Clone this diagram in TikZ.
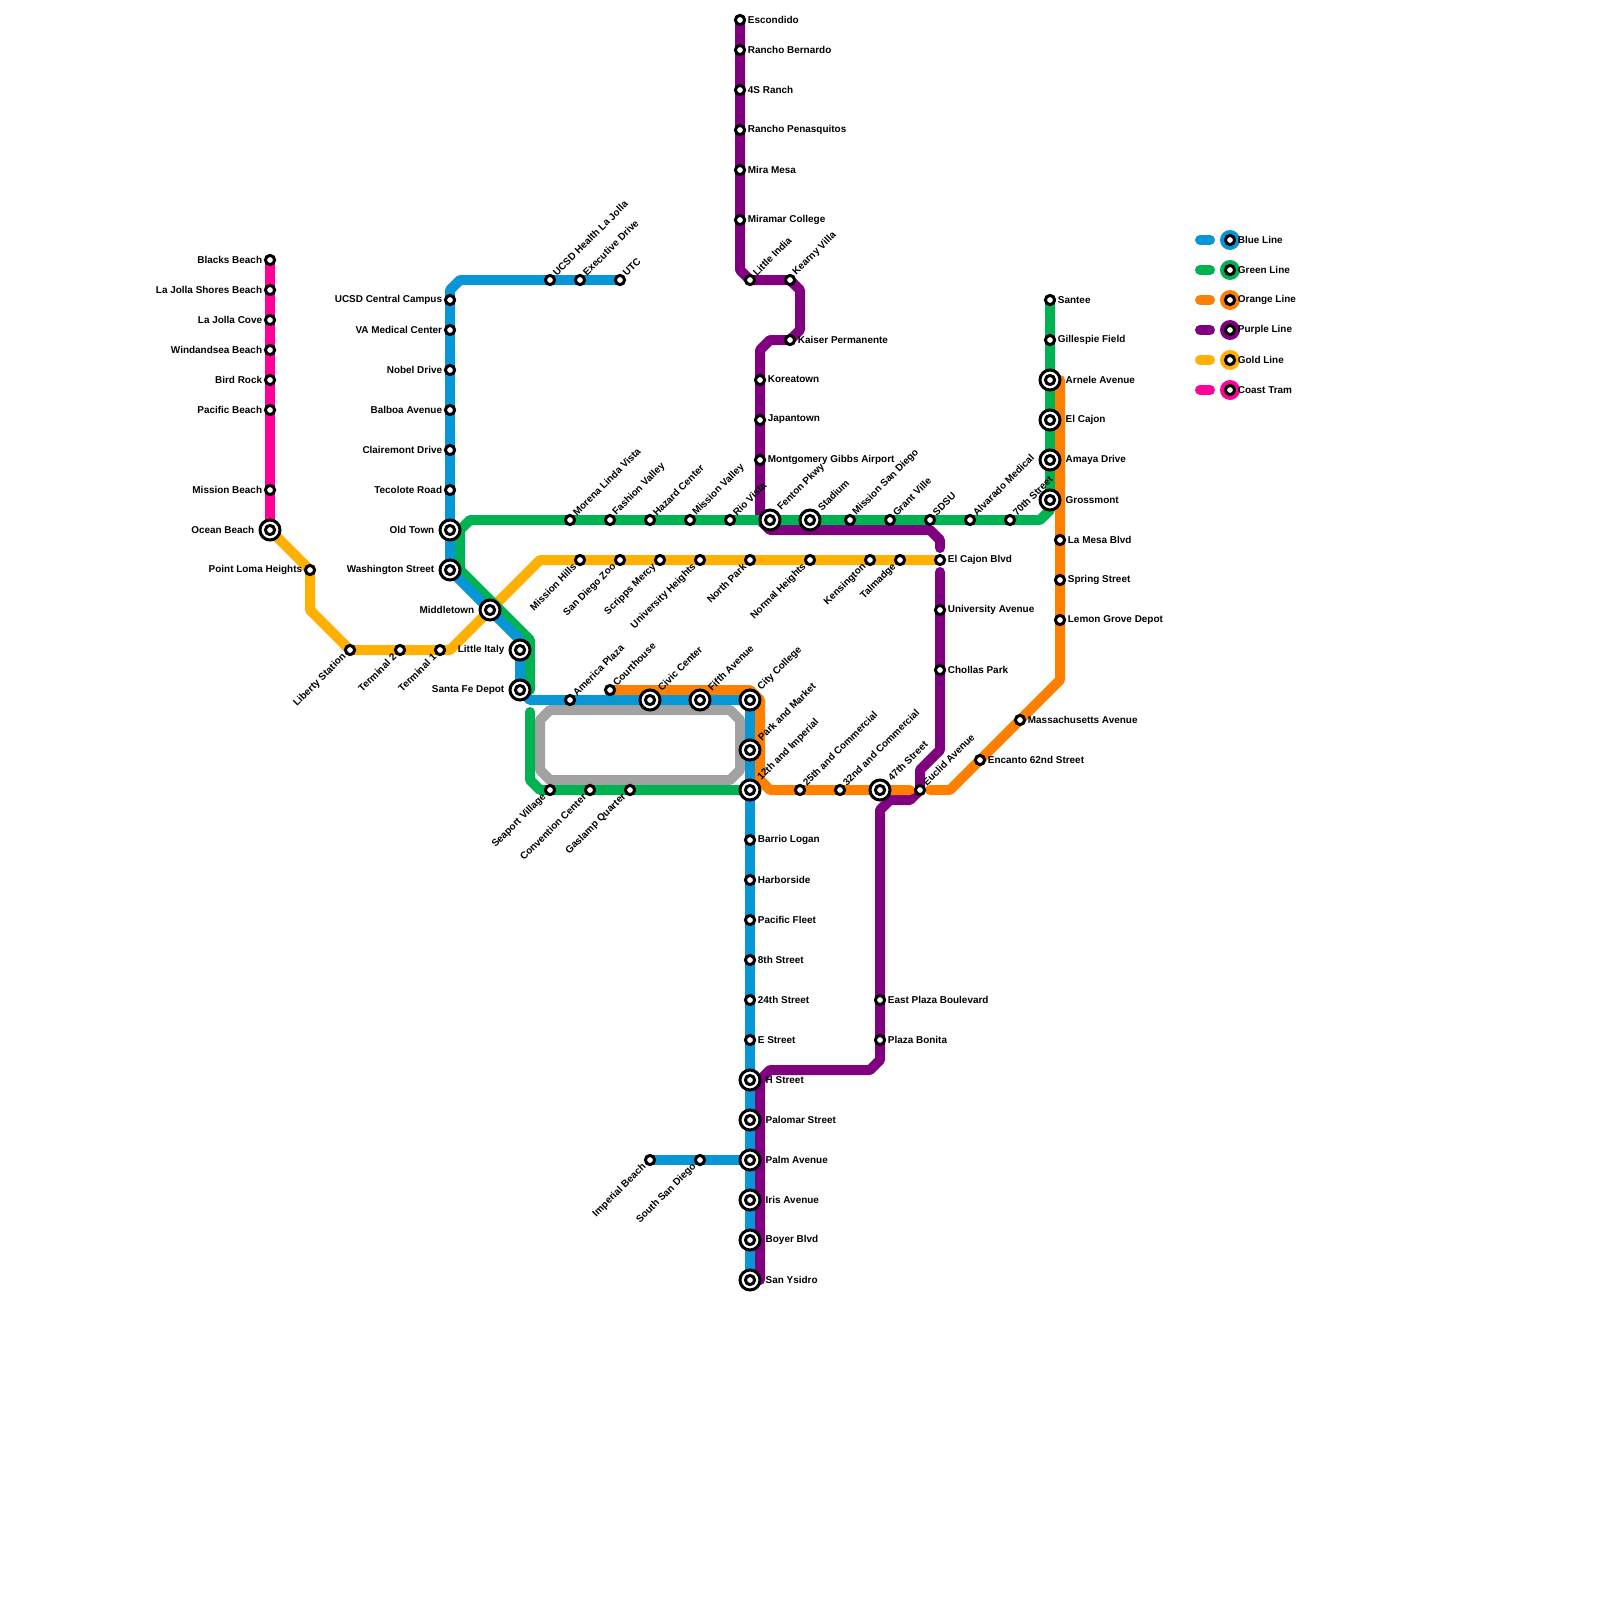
\documentclass[tikz,border=0pt]{standalone}
\usepackage{fontspec}
\setmainfont{Liberation Sans}
\usepackage{tkz-euclide}
\definecolor{BlueClr}{HTML}{0896D7}
\definecolor{GreenClr}{HTML}{00B251}
\definecolor{OrangeClr}{HTML}{FF8000}
\definecolor{PurpleClr}{HTML}{800080}
\definecolor{GoldClr}{HTML}{FFB000}
\definecolor{CoastClr}{HTML}{FF0099}
\definecolor{LoopClr}{HTML}{A2A2A2}
\tikzset{
  metro/.style={line width=1mm,line cap=round,line join=round},
  stn/.style={circle,draw=black,fill=white,line width=.3mm,inner sep=0pt,minimum size=.92mm},
  hub/.style={circle,draw=black,fill=white,line width=.3mm,inner sep=0pt,minimum size=2mm},
  disc/.style={circle,inner sep=0pt,minimum size=2mm},
  lbl/.style={font=\fontsize{2.83}{3.4}\selectfont\bfseries,inner sep=0pt,text=black},
  lblR/.style={lbl,anchor=west,xshift=.72mm,yshift=.04mm},
  lblRh/.style={lbl,anchor=west,xshift=1.5mm,yshift=.04mm},
  lblL/.style={lbl,anchor=east,xshift=-.72mm,yshift=.04mm},
  lblLh/.style={lbl,anchor=east,xshift=-1.5mm,yshift=.04mm},
  lblU/.style={lbl,anchor=west,xshift=.4mm,yshift=.55mm,rotate=45},
  lblUh/.style={lbl,anchor=west,xshift=.9mm,yshift=1.05mm,rotate=45},
  lblD/.style={lbl,anchor=east,xshift=-.5mm,yshift=-.5mm,rotate=45},
}

\begin{document}
\begin{tikzpicture}[x=1mm,y=-1mm]
\useasboundingbox (0,0) rectangle (160,160);

% stations
\tkzDefPoints{27/26/BB,27/29/LJS,27/32/LJC,27/35/WS,27/38/BR,27/41/PB,27/49/MB,27/53/OB}
\tkzDefPoints{31/57/PL,35/65/LS,40/65/TT,44/65/TO,49/61/MT}
\tkzDefPoints{58/56/MH,62/56/SZ,66/56/SM,70/56/UH,75/56/NP,81/56/NH,87/56/KS,90/56/TM,94/56/EB}
\tkzDefPoints{62/28/UT,58/28/ED,55/28/UH1,45/30/UC,45/33/VA,45/37/ND,45/41/BA,45/45/CD,45/49/TR,45/53/OT,45/57/WA}
\tkzDefPoints{52/65/LI,52/69/SF,57/70/AP,65/70/CC,70/70/FA,75/70/CL,75/75/PM,75/79/TI}
\tkzDefPoints{75/84/BL,75/88/HS,75/92/PF,75/96/ES,75/100/TF,75/104/ET,75/108/HT,75/112/PA,75/116/PV,75/120/IA,75/124/BY,75/128/SY}
\tkzDefPoints{65/116/IB,70/116/SS}
\tkzDefPoints{105/30/ST,105/34/GF,105/38/AR,105/42/EC,105/46/AD,105/50/GR}
\tkzDefPoints{57/52/ML,61/52/FV,65/52/HC,69/52/MV,73/52/RV,77/52/FP,81/52/SD,85/52/MS,89/52/GV,93/52/SU,97/52/AM,101/52/SV}
\tkzDefPoints{55/79/SV1,59/79/CN,63/79/GQ}
\tkzDefPoints{61/69/CH,80/79/TC,84/79/DC,88/79/FS,92/79/EA,98/76/EN,102/72/MA,106/62/LG,106/58/SP,106/54/LM}
\tkzDefPoints{74/2/EO,74/5/RB,74/9/FR,74/13/RP,74/17/MM,74/22/MC,75/28/LN,79/28/KV,79/34/KP,76/38/KT,76/42/JT,76/46/MG}
\tkzDefPoints{94/61/UA,94/67/CP,88/100/EP,88/104/PO}

% bends
\tkzDefPoints{31/61/Y1,45/65/Y2,54/56/Y3}
\tkzDefPoints{46/28/B1,45/29/B2,52/64/B3,53/70/B4}
\tkzDefPoints{47/52/G1,46/53/G2,46/57/G3,53/64/G4,53/69/G5,53/71.2/G6,53/78/G7,54/79/G8,104/52/G9,105/51/G10}
\tkzDefPoints{75/69/O1,76/70/O2,76/78/O3,77/79/O4,91/79/O5,93/79/O6,95/79/O7,106/68/O8,106/38/O9}
\tkzDefPoints{74/27/P1,80/29/P2,80/33/P3,77/34/P4,76/35/P5,76/52/P6,77/53/P7,93/53/P8,94/54/P9,94/54.8/P10}
\tkzDefPoints{94/57.2/P11,94/75/P12,92/77/P13,91/80/P14,89/80/P15,88/81/P16,88/106/P17,87/107/P18,77/107/P19,76/108/P20,76/128/P21}
\tkzDefPoints{55/71/L1,73/71/L2,74/72/L3,74/77/L4,73/78/L5,55/78/L6,54/77/L7,54/72/L8}
\tkzDefPoints{120/24/KA,121/24/KB,123/24/KC,120/27/KD,121/27/KE,123/27/KF,120/30/KG,121/30/KH,123/30/KI}
\tkzDefPoints{120/33/KJ,121/33/KK,123/33/KL,120/36/KM,121/36/KN,123/36/KO,120/39/KP1,121/39/KQ,123/39/KR}

\draw[metro,color=LoopClr] (L1) -- (L2) -- (L3) -- (L4) -- (L5) -- (L6) -- (L7) -- (L8) -- cycle;
\draw[metro,color=GoldClr] (OB) -- (PL) -- (Y1) -- (LS) -- (Y2) -- (Y3) -- (EB);
\draw[metro,color=PurpleClr] (EO) -- (P1) -- (LN) -- (KV) -- (P2) -- (P3) -- (KP) -- (P4) -- (P5) -- (P6) -- (P7) -- (P8) -- (P9) -- (P10);
\draw[metro,color=GreenClr] (ST) -- (G10) -- (G9) -- (G1) -- (G2) -- (G3) -- (G4) -- (G5);
\draw[metro,color=GreenClr] (G6) -- (G7) -- (G8) -- (TI);
\draw[metro,color=BlueClr] (UT) -- (B1) -- (B2) -- (WA) -- (B3) -- (SF) -- (B4) -- (CL) -- (SY);
\draw[metro,color=BlueClr] (IB) -- (PV);
\draw[metro,color=PurpleClr] (P11) -- (P12) -- (P13) -- (EA) -- (P14) -- (P15) -- (P16) -- (P17) -- (P18) -- (P19) -- (P20) -- (P21) -- (SY);
\draw[metro,color=OrangeClr] (CH) -- (O1) -- (O2) -- (O3) -- (O4) -- (O5);
\draw[metro,color=OrangeClr] (O6) -- (O7) -- (O8) -- (O9);
\draw[metro,color=CoastClr] (BB) -- (OB);

% legend
\draw[metro,color=BlueClr] (KA) -- (KB);
\draw[metro,color=GreenClr] (KD) -- (KE);
\draw[metro,color=OrangeClr] (KG) -- (KH);
\draw[metro,color=PurpleClr] (KJ) -- (KK);
\draw[metro,color=GoldClr] (KM) -- (KN);
\draw[metro,color=CoastClr] (KP1) -- (KQ);
\node[disc,fill=BlueClr] (dBlue) at (KC) {};
\node[disc,fill=GreenClr] (dGreen) at (KF) {};
\node[disc,fill=OrangeClr] (dOrange) at (KI) {};
\node[disc,fill=PurpleClr] (dPurple) at (KL) {};
\node[disc,fill=GoldClr] (dGold) at (KO) {};
\node[disc,fill=CoastClr] (dCoast) at (KR) {};
\node[stn] (nBlue) at (KC) {}; \node[lblR] (tBlue) at (KC) {Blue Line};
\node[stn] (nGreen) at (KF) {}; \node[lblR] (tGreen) at (KF) {Green Line};
\node[stn] (nOrange) at (KI) {}; \node[lblR] (tOrange) at (KI) {Orange Line};
\node[stn] (nPurple) at (KL) {}; \node[lblR] (tPurple) at (KL) {Purple Line};
\node[stn] (nGold) at (KO) {}; \node[lblR] (tGold) at (KO) {Gold Line};
\node[stn] (nCoast) at (KR) {}; \node[lblR] (tCoast) at (KR) {Coast Tram};

% interchanges
\node[hub] (hOB) at (OB) {}; \node[stn] (nOB) at (OB) {}; \node[lblLh] (tOB) at (OB) {Ocean Beach};
\node[hub] (hOT) at (OT) {}; \node[stn] (nOT) at (OT) {}; \node[lblLh] (tOT) at (OT) {Old Town};
\node[hub] (hWA) at (WA) {}; \node[stn] (nWA) at (WA) {}; \node[lblLh] (tWA) at (WA) {Washington Street};
\node[hub] (hMT) at (MT) {}; \node[stn] (nMT) at (MT) {}; \node[lblLh] (tMT) at (MT) {Middletown};
\node[hub] (hLI) at (LI) {}; \node[stn] (nLI) at (LI) {}; \node[lblLh] (tLI) at (LI) {Little Italy};
\node[hub] (hSF) at (SF) {}; \node[stn] (nSF) at (SF) {}; \node[lblLh] (tSF) at (SF) {Santa Fe Depot};
\node[hub] (hCC) at (CC) {}; \node[stn] (nCC) at (CC) {}; \node[lblUh] (tCC) at (CC) {Civic Center};
\node[hub] (hFA) at (FA) {}; \node[stn] (nFA) at (FA) {}; \node[lblUh] (tFA) at (FA) {Fifth Avenue};
\node[hub] (hCL) at (CL) {}; \node[stn] (nCL) at (CL) {}; \node[lblUh] (tCL) at (CL) {City College};
\node[hub] (hPM) at (PM) {}; \node[stn] (nPM) at (PM) {}; \node[lblUh] (tPM) at (PM) {Park and Market};
\node[hub] (hTI) at (TI) {}; \node[stn] (nTI) at (TI) {}; \node[lblUh] (tTI) at (TI) {12th and Imperial};
\node[hub] (hFS) at (FS) {}; \node[stn] (nFS) at (FS) {}; \node[lblUh] (tFS) at (FS) {47th Street};
\node[hub] (hFP) at (FP) {}; \node[stn] (nFP) at (FP) {}; \node[lblUh] (tFP) at (FP) {Fenton Pkwy};
\node[hub] (hSD) at (SD) {}; \node[stn] (nSD) at (SD) {}; \node[lblUh] (tSD) at (SD) {Stadium};
\node[hub] (hAR) at (AR) {}; \node[stn] (nAR) at (AR) {}; \node[lblRh] (tAR) at (AR) {Arnele Avenue};
\node[hub] (hEC) at (EC) {}; \node[stn] (nEC) at (EC) {}; \node[lblRh] (tEC) at (EC) {El Cajon};
\node[hub] (hAD) at (AD) {}; \node[stn] (nAD) at (AD) {}; \node[lblRh] (tAD) at (AD) {Amaya Drive};
\node[hub] (hGR) at (GR) {}; \node[stn] (nGR) at (GR) {}; \node[lblRh] (tGR) at (GR) {Grossmont};
\node[hub] (hHT) at (HT) {}; \node[stn] (nHT) at (HT) {}; \node[lblRh] (tHT) at (HT) {H Street};
\node[hub] (hPA) at (PA) {}; \node[stn] (nPA) at (PA) {}; \node[lblRh] (tPA) at (PA) {Palomar Street};
\node[hub] (hPV) at (PV) {}; \node[stn] (nPV) at (PV) {}; \node[lblRh] (tPV) at (PV) {Palm Avenue};
\node[hub] (hIA) at (IA) {}; \node[stn] (nIA) at (IA) {}; \node[lblRh] (tIA) at (IA) {Iris Avenue};
\node[hub] (hBY) at (BY) {}; \node[stn] (nBY) at (BY) {}; \node[lblRh] (tBY) at (BY) {Boyer Blvd};
\node[hub] (hSY) at (SY) {}; \node[stn] (nSY) at (SY) {}; \node[lblRh] (tSY) at (SY) {San Ysidro};

% coast tram
\node[stn] (nBB) at (BB) {}; \node[lblL] (tBB) at (BB) {Blacks Beach};
\node[stn] (nLJS) at (LJS) {}; \node[lblL] (tLJS) at (LJS) {La Jolla Shores Beach};
\node[stn] (nLJC) at (LJC) {}; \node[lblL] (tLJC) at (LJC) {La Jolla Cove};
\node[stn] (nWS) at (WS) {}; \node[lblL] (tWS) at (WS) {Windandsea Beach};
\node[stn] (nBR) at (BR) {}; \node[lblL] (tBR) at (BR) {Bird Rock};
\node[stn] (nPB) at (PB) {}; \node[lblL] (tPB) at (PB) {Pacific Beach};
\node[stn] (nMB) at (MB) {}; \node[lblL] (tMB) at (MB) {Mission Beach};

% gold line
\node[stn] (nPL) at (PL) {}; \node[lblL] (tPL) at (PL) {Point Loma Heights};
\node[stn] (nLS) at (LS) {}; \node[lblD] (tLS) at (LS) {Liberty Station};
\node[stn] (nTT) at (TT) {}; \node[lblD] (tTT) at (TT) {Terminal 2};
\node[stn] (nTO) at (TO) {}; \node[lblD] (tTO) at (TO) {Terminal 1};
\node[stn] (nMH) at (MH) {}; \node[lblD] (tMH) at (MH) {Mission Hills};
\node[stn] (nSZ) at (SZ) {}; \node[lblD] (tSZ) at (SZ) {San Diego Zoo};
\node[stn] (nSM) at (SM) {}; \node[lblD] (tSM) at (SM) {Scripps Mercy};
\node[stn] (nUH) at (UH) {}; \node[lblD] (tUH) at (UH) {University Heights};
\node[stn] (nNP) at (NP) {}; \node[lblD] (tNP) at (NP) {North Park};
\node[stn] (nNH) at (NH) {}; \node[lblD] (tNH) at (NH) {Normal Heights};
\node[stn] (nKS) at (KS) {}; \node[lblD] (tKS) at (KS) {Kensington};
\node[stn] (nTM) at (TM) {}; \node[lblD] (tTM) at (TM) {Talmadge};
\node[stn] (nEB) at (EB) {}; \node[lblR] (tEB) at (EB) {El Cajon Blvd};

% blue line
\node[stn] (nUT) at (UT) {}; \node[lblU] (tUT) at (UT) {UTC};
\node[stn] (nED) at (ED) {}; \node[lblU] (tED) at (ED) {Executive Drive};
\node[stn] (nUH1) at (UH1) {}; \node[lblU] (tUH1) at (UH1) {UCSD Health La Jolla};
\node[stn] (nUC) at (UC) {}; \node[lblL] (tUC) at (UC) {UCSD Central Campus};
\node[stn] (nVA) at (VA) {}; \node[lblL] (tVA) at (VA) {VA Medical Center};
\node[stn] (nND) at (ND) {}; \node[lblL] (tND) at (ND) {Nobel Drive};
\node[stn] (nBA) at (BA) {}; \node[lblL] (tBA) at (BA) {Balboa Avenue};
\node[stn] (nCD) at (CD) {}; \node[lblL] (tCD) at (CD) {Clairemont Drive};
\node[stn] (nTR) at (TR) {}; \node[lblL] (tTR) at (TR) {Tecolote Road};
\node[stn] (nAP) at (AP) {}; \node[lblU] (tAP) at (AP) {America Plaza};
\node[stn] (nBL) at (BL) {}; \node[lblR] (tBL) at (BL) {Barrio Logan};
\node[stn] (nHS) at (HS) {}; \node[lblR] (tHS) at (HS) {Harborside};
\node[stn] (nPF) at (PF) {}; \node[lblR] (tPF) at (PF) {Pacific Fleet};
\node[stn] (nES) at (ES) {}; \node[lblR] (tES) at (ES) {8th Street};
\node[stn] (nTF) at (TF) {}; \node[lblR] (tTF) at (TF) {24th Street};
\node[stn] (nET) at (ET) {}; \node[lblR] (tET) at (ET) {E Street};
\node[stn] (nIB) at (IB) {}; \node[lblD] (tIB) at (IB) {Imperial Beach};
\node[stn] (nSS) at (SS) {}; \node[lblD] (tSS) at (SS) {South San Diego};

% green line
\node[stn] (nST) at (ST) {}; \node[lblR] (tST) at (ST) {Santee};
\node[stn] (nGF) at (GF) {}; \node[lblR] (tGF) at (GF) {Gillespie Field};
\node[stn] (nML) at (ML) {}; \node[lblU] (tML) at (ML) {Morena Linda Vista};
\node[stn] (nFV) at (FV) {}; \node[lblU] (tFV) at (FV) {Fashion Valley};
\node[stn] (nHC) at (HC) {}; \node[lblU] (tHC) at (HC) {Hazard Center};
\node[stn] (nMV) at (MV) {}; \node[lblU] (tMV) at (MV) {Mission Valley};
\node[stn] (nRV) at (RV) {}; \node[lblU] (tRV) at (RV) {Rio Vista};
\node[stn] (nMS) at (MS) {}; \node[lblU] (tMS) at (MS) {Mission San Diego};
\node[stn] (nGV) at (GV) {}; \node[lblU] (tGV) at (GV) {Grant Ville};
\node[stn] (nSU) at (SU) {}; \node[lblU] (tSU) at (SU) {SDSU};
\node[stn] (nAM) at (AM) {}; \node[lblU] (tAM) at (AM) {Alvarado Medical};
\node[stn] (nSV) at (SV) {}; \node[lblU] (tSV) at (SV) {70th Street};
\node[stn] (nSV1) at (SV1) {}; \node[lblD] (tSV1) at (SV1) {Seaport Village};
\node[stn] (nCN) at (CN) {}; \node[lblD] (tCN) at (CN) {Convention Center};
\node[stn] (nGQ) at (GQ) {}; \node[lblD] (tGQ) at (GQ) {Gaslamp Quarter};

% orange line
\node[stn] (nCH) at (CH) {}; \node[lblU] (tCH) at (CH) {Courthouse};
\node[stn] (nTC) at (TC) {}; \node[lblU] (tTC) at (TC) {25th and Commercial};
\node[stn] (nDC) at (DC) {}; \node[lblU] (tDC) at (DC) {32nd and Commercial};
\node[stn] (nEN) at (EN) {}; \node[lblR] (tEN) at (EN) {Encanto 62nd Street};
\node[stn] (nMA) at (MA) {}; \node[lblR] (tMA) at (MA) {Massachusetts Avenue};
\node[stn] (nLG) at (LG) {}; \node[lblR] (tLG) at (LG) {Lemon Grove Depot};
\node[stn] (nSP) at (SP) {}; \node[lblR] (tSP) at (SP) {Spring Street};
\node[stn] (nLM) at (LM) {}; \node[lblR] (tLM) at (LM) {La Mesa Blvd};

% purple line
\node[stn] (nEO) at (EO) {}; \node[lblR] (tEO) at (EO) {Escondido};
\node[stn] (nRB) at (RB) {}; \node[lblR] (tRB) at (RB) {Rancho Bernardo};
\node[stn] (nFR) at (FR) {}; \node[lblR] (tFR) at (FR) {4S Ranch};
\node[stn] (nRP) at (RP) {}; \node[lblR] (tRP) at (RP) {Rancho Penasquitos};
\node[stn] (nMM) at (MM) {}; \node[lblR] (tMM) at (MM) {Mira Mesa};
\node[stn] (nMC) at (MC) {}; \node[lblR] (tMC) at (MC) {Miramar College};
\node[stn] (nLN) at (LN) {}; \node[lblU] (tLN) at (LN) {Little India};
\node[stn] (nKV) at (KV) {}; \node[lblU] (tKV) at (KV) {Kearny Villa};
\node[stn] (nKP) at (KP) {}; \node[lblR] (tKP) at (KP) {Kaiser Permanente};
\node[stn] (nKT) at (KT) {}; \node[lblR] (tKT) at (KT) {Koreatown};
\node[stn] (nJT) at (JT) {}; \node[lblR] (tJT) at (JT) {Japantown};
\node[stn] (nMG) at (MG) {}; \node[lblR] (tMG) at (MG) {Montgomery Gibbs Airport};
\node[stn] (nEA) at (EA) {}; \node[lblU] (tEA) at (EA) {Euclid Avenue};
\node[stn] (nUA) at (UA) {}; \node[lblR] (tUA) at (UA) {University Avenue};
\node[stn] (nCP) at (CP) {}; \node[lblR] (tCP) at (CP) {Chollas Park};
\node[stn] (nEP) at (EP) {}; \node[lblR] (tEP) at (EP) {East Plaza Boulevard};
\node[stn] (nPO) at (PO) {}; \node[lblR] (tPO) at (PO) {Plaza Bonita};

\end{tikzpicture}
\end{document}
